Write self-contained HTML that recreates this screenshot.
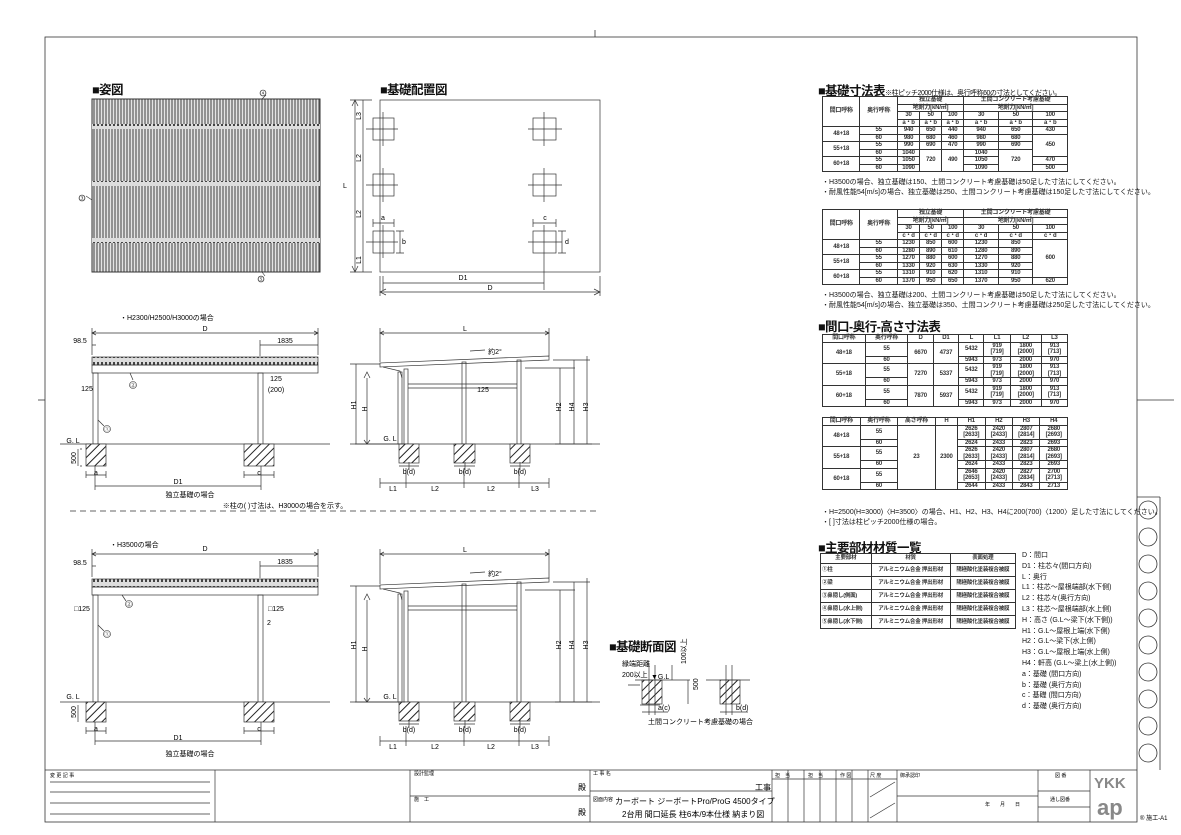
<!DOCTYPE html>
<html><head><meta charset="utf-8">
<style>
body{margin:0;background:#fff;width:1181px;height:835px;overflow:hidden;position:relative;font-family:"Liberation Sans","Noto Sans CJK JP",sans-serif;color:#111}
svg{position:absolute;left:0;top:0}
table{position:absolute;border-collapse:collapse;font-size:6px;line-height:6.5px;font-family:"Liberation Sans","Noto Sans CJK JP",sans-serif;font-weight:bold;color:#333;letter-spacing:-0.2px}
td{border:0.8px solid #333;text-align:center;padding:0 1px;height:6px;white-space:nowrap}
.t{position:absolute;font-size:7px;white-space:nowrap}
.h{position:absolute;font-size:12.5px;font-weight:bold;white-space:nowrap;letter-spacing:-0.5px}
</style></head><body>
<svg width="1181" height="835" viewBox="0 0 1181 835" font-family="Liberation Sans, Noto Sans CJK JP, sans-serif">
<defs>
<pattern id="st" width="3" height="10" patternUnits="userSpaceOnUse"><rect width="3" height="10" fill="#e4e4e4"/><line x1="1" y1="0" x2="1" y2="10" stroke="#666" stroke-width="1.3"/></pattern>
<pattern id="hat" width="6" height="6" patternUnits="userSpaceOnUse" patternTransform="rotate(45)"><rect width="6" height="6" fill="#fff"/><line x1="0" y1="0" x2="0" y2="6" stroke="#222" stroke-width="2"/></pattern>
<pattern id="dots" width="4" height="8" patternUnits="userSpaceOnUse"><rect width="4" height="8" fill="#ddd"/><rect x="1" y="2" width="2" height="4" fill="#444"/></pattern>
</defs>
<g stroke="#333" stroke-width="0.8" fill="none">
<rect x="45" y="37" width="1092" height="785"/>
<line x1="595" y1="30" x2="595" y2="37"/><line x1="38" y1="400" x2="45" y2="400"/><line x1="1137" y1="400" x2="1174" y2="400"/>
<line x1="1137" y1="497" x2="1160" y2="497"/><line x1="1160" y1="497" x2="1160" y2="770"/>
<line x1="70" y1="511" x2="600" y2="511" stroke-dasharray="6,4"/>
</g>
<g fill="none" stroke="#333" stroke-width="0.8">
<circle cx="1148" cy="510" r="9"/><circle cx="1148" cy="537" r="9"/><circle cx="1148" cy="564" r="9"/><circle cx="1148" cy="591" r="9"/><circle cx="1148" cy="618" r="9"/><circle cx="1148" cy="645" r="9"/><circle cx="1148" cy="672" r="9"/><circle cx="1148" cy="699" r="9"/><circle cx="1148" cy="726" r="9"/><circle cx="1148" cy="753" r="9"/>
</g>

<rect x="92" y="99" width="228" height="173" fill="url(#st)" stroke="#333"/>
<rect x="92" y="124" width="228" height="5" fill="url(#dots)"/>
<rect x="92" y="181" width="228" height="5" fill="url(#dots)"/>
<rect x="92" y="238" width="228" height="5" fill="url(#dots)"/>
<g stroke="#333" stroke-width="0.6" fill="none"><line x1="92" y1="200" x2="86" y2="196"/><circle cx="82" cy="198" r="3"/><line x1="262" y1="99" x2="266" y2="95"/><circle cx="263" cy="93" r="3"/><line x1="262" y1="272" x2="265" y2="276"/><circle cx="261" cy="279" r="3"/></g>
<g font-size="5" text-anchor="middle"><text x="82" y="200">③</text><text x="263" y="95">④</text><text x="261" y="281">⑤</text></g>

<g stroke="#333" stroke-width="0.7" fill="none">
<rect x="380" y="100" width="220" height="172"/>
<rect x="373" y="118" width="21" height="22"/><rect x="373" y="174" width="21" height="22"/><rect x="373" y="231" width="21" height="22"/>
<rect x="533" y="118" width="23" height="22"/><rect x="533" y="174" width="23" height="22"/><rect x="533" y="231" width="23" height="22"/>
<path d="M366 129H398M383 112V146M366 185H398M383 168V202M366 242H398M383 225V258M528 129H562M544 112V146M528 185H562M544 168V202M528 242H562M544 225V258"/>
<line x1="355" y1="100" x2="355" y2="272"/><line x1="350" y1="100" x2="372" y2="100"/><line x1="350" y1="272" x2="372" y2="272"/>
<line x1="363" y1="100" x2="363" y2="272"/>
<line x1="383" y1="283" x2="544" y2="283"/><line x1="383" y1="276" x2="383" y2="290"/><line x1="544" y1="258" x2="544" y2="290"/>
<line x1="380" y1="292" x2="600" y2="292"/><line x1="380" y1="276" x2="380" y2="296"/><line x1="600" y1="276" x2="600" y2="296"/>
<path d="M373 223H394M373 219V227M394 219V227M533 223H556M533 219V227M556 219V227M400 231V253M396 231H404M396 253H404M562 231V253M558 231H566M558 253H566"/>
<path d="M352 106L355 100L358 106M352 266L355 272L358 266M386 289L380 292L386 295M594 289L600 292L594 295"/>
</g>
<g font-size="7" text-anchor="middle">
<text x="345" y="188">L</text><text x="359" y="118" transform="rotate(-90 359 116)">L3</text><text x="359" y="160" transform="rotate(-90 359 158)">L2</text><text x="359" y="216" transform="rotate(-90 359 214)">L2</text><text x="359" y="262" transform="rotate(-90 359 260)">L1</text>
<text x="383" y="220">a</text><text x="545" y="220">c</text><text x="404" y="244">b</text><text x="567" y="244">d</text>
<text x="463" y="280">D1</text><text x="490" y="290">D</text>
</g>

<g stroke="#333" stroke-width="0.7" fill="none">
<rect x="92" y="357" width="226" height="8" fill="url(#dots)"/>
<rect x="92" y="365" width="226" height="8"/>
<rect x="93" y="373" width="5" height="71"/><rect x="258" y="373" width="5" height="71"/>
<line x1="60" y1="444" x2="330" y2="444"/>
<rect x="86" y="444" width="20" height="22" fill="url(#hat)"/><rect x="244" y="444" width="30" height="22" fill="url(#hat)"/>
<path d="M92 333H318M92 328V355M318 328V355M92 345H96M92 340V355M260 345H318M260 340V356M96 335l-4-2 4-2M314 335l4-2-4-2"/>
<path d="M86 471V478M106 471V478M86 475H106M244 471V478M274 471V478M244 475H274M95 466V490M261 466V490M95 486H261"/>
<path d="M80 449H82M80 466H82M78 449V466"/>
<line x1="130" y1="373" x2="133" y2="380"/><line x1="98" y1="420" x2="104" y2="426"/>
</g>
<g font-size="7" text-anchor="middle">
<text x="120" y="320" text-anchor="start">・H2300/H2500/H3000の場合</text>
<text x="205" y="331">D</text><text x="285" y="343">1835</text><text x="80" y="343">98.5</text>
<circle cx="133" cy="385" r="3.5" fill="none" stroke="#333" stroke-width="0.6"/><text x="133" y="387" font-size="5">②</text>
<circle cx="107" cy="429" r="3.5" fill="none" stroke="#333" stroke-width="0.6"/><text x="107" y="431" font-size="5">①</text>
<text x="87" y="391">125</text><text x="276" y="381">125</text><text x="276" y="392">(200)</text>
<text x="73" y="443">G. L</text><text x="72" y="462" transform="rotate(-90 72 458)">500</text>
<text x="96" y="475">a</text><text x="259" y="475">c</text><text x="178" y="484">D1</text>
<text x="190" y="497">独立基礎の場合</text><text x="285" y="508">※柱の( )寸法は、H3000の場合を示す。</text>
</g>

<g stroke="#333" stroke-width="0.7" fill="none">
<path d="M380 363L549 356L549 360L380 367Z"/>
<path d="M383 367L400 371L402 378"/>
<rect x="398" y="372" width="4" height="72"/><rect x="404" y="369" width="4" height="75"/><rect x="462" y="362" width="4" height="82"/><rect x="517" y="360" width="4" height="84"/>
<path d="M408 384H517M408 388H517"/>
<line x1="355" y1="444" x2="600" y2="444"/>
<rect x="399" y="444" width="20" height="19" fill="url(#hat)"/><rect x="454" y="444" width="21" height="19" fill="url(#hat)"/><rect x="510" y="444" width="20" height="19" fill="url(#hat)"/>
<path d="M380 333H549M380 328V362M549 328V356M384 335l-4-2 4-2M545 335l4-2-4-2"/>
<path d="M350 364H380M356 364V444M350 444H405M367 378V444M364 378L367 372L370 378M364 440L367 444L370 440"/>
<path d="M525 368H575M560 368V444M553 360H590M574 360V444M587 356V444M555 444H592"/>
<path d="M399 466H419M409 462V470M454 466H475M465 462V470M510 466H530M520 462V470M380 483H549M380 478V488M406 468V488M464 468V488M519 468V488M549 478V488"/>
<line x1="470" y1="351" x2="485" y2="350"/>
</g>
<g font-size="7" text-anchor="middle">
<text x="465" y="331">L</text><text x="495" y="354">約2°</text><text x="483" y="392">125</text>
<text x="353" y="408" transform="rotate(-90 353 405)">H1</text><text x="364" y="412" transform="rotate(-90 364 409)">H</text>
<text x="558" y="410" transform="rotate(-90 558 407)">H2</text><text x="571" y="410" transform="rotate(-90 571 407)">H4</text><text x="585" y="410" transform="rotate(-90 585 407)">H3</text>
<text x="390" y="441">G. L</text>
<text x="409" y="474">b(d)</text><text x="465" y="474">b(d)</text><text x="520" y="474">b(d)</text>
<text x="393" y="491">L1</text><text x="435" y="491">L2</text><text x="491" y="491">L2</text><text x="535" y="491">L3</text>
</g>

<g stroke="#333" stroke-width="0.7" fill="none">
<rect x="92" y="579" width="226" height="8" fill="url(#dots)"/>
<rect x="92" y="587" width="226" height="8"/>
<rect x="93" y="595" width="5" height="107"/><rect x="258" y="595" width="5" height="107"/>
<line x1="60" y1="702" x2="330" y2="702"/>
<rect x="86" y="702" width="20" height="20" fill="url(#hat)"/><rect x="244" y="702" width="30" height="20" fill="url(#hat)"/>
<path d="M92 554H318M92 549V577M318 549V577M92 566H96M260 566H318M260 561V578M96 556l-4-2 4-2M314 556l4-2-4-2"/>
<path d="M86 727V734M106 727V734M86 731H106M244 727V734M274 727V734M244 731H274M95 722V745M261 722V745M95 741H261"/>
<path d="M78 705V722"/>
<line x1="122" y1="595" x2="126" y2="601"/><line x1="98" y1="625" x2="104" y2="631"/>
</g>
<g font-size="7" text-anchor="middle">
<text x="110" y="547" text-anchor="start">・H3500の場合</text>
<text x="205" y="551">D</text><text x="285" y="564">1835</text><text x="80" y="565">98.5</text>
<circle cx="129" cy="604" r="3.5" fill="none" stroke="#333" stroke-width="0.6"/><text x="129" y="606" font-size="5">②</text>
<circle cx="107" cy="634" r="3.5" fill="none" stroke="#333" stroke-width="0.6"/><text x="107" y="636" font-size="5">①</text>
<text x="82" y="611">□125</text><text x="276" y="611">□125</text><text x="269" y="625">2</text>
<text x="73" y="699">G. L</text><text x="72" y="716" transform="rotate(-90 72 712)">500</text>
<text x="96" y="731">a</text><text x="259" y="731">c</text><text x="178" y="740">D1</text>
<text x="190" y="756">独立基礎の場合</text>
</g>

<g stroke="#333" stroke-width="0.7" fill="none">
<path d="M380 585L549 578L549 582L380 589Z"/>
<path d="M383 589L400 593L402 600"/>
<rect x="398" y="594" width="4" height="108"/><rect x="404" y="591" width="4" height="111"/><rect x="462" y="584" width="4" height="118"/><rect x="517" y="582" width="4" height="120"/>
<path d="M408 606H517M408 610H517"/>
<line x1="355" y1="702" x2="600" y2="702"/>
<rect x="399" y="702" width="20" height="19" fill="url(#hat)"/><rect x="454" y="702" width="21" height="19" fill="url(#hat)"/><rect x="510" y="702" width="20" height="19" fill="url(#hat)"/>
<path d="M380 554H549M380 549V584M549 549V578M384 556l-4-2 4-2M545 556l4-2-4-2"/>
<path d="M350 586H380M356 586V702M350 702H405M367 600V702M364 600L367 594L370 600M364 698L367 702L370 698"/>
<path d="M525 590H575M560 590V702M553 582H590M574 582V702M587 578V702M555 702H592"/>
<path d="M399 724H419M409 720V728M454 724H475M465 720V728M510 724H530M520 720V728M380 741H549M380 736V746M406 726V746M464 726V746M519 726V746M549 736V746"/>
<line x1="470" y1="573" x2="485" y2="572"/>
</g>
<g font-size="7" text-anchor="middle">
<text x="465" y="552">L</text><text x="495" y="576">約2°</text>
<text x="353" y="648" transform="rotate(-90 353 645)">H1</text><text x="364" y="652" transform="rotate(-90 364 649)">H</text>
<text x="558" y="648" transform="rotate(-90 558 645)">H2</text><text x="571" y="648" transform="rotate(-90 571 645)">H4</text><text x="585" y="648" transform="rotate(-90 585 645)">H3</text>
<text x="390" y="699">G. L</text>
<text x="409" y="732">b(d)</text><text x="465" y="732">b(d)</text><text x="520" y="732">b(d)</text>
<text x="393" y="749">L1</text><text x="435" y="749">L2</text><text x="491" y="749">L2</text><text x="535" y="749">L3</text>
</g>

<g stroke="#333" stroke-width="0.7" fill="none">
<rect x="642" y="680" width="20" height="24" fill="url(#hat)"/><rect x="720" y="680" width="20" height="24" fill="url(#hat)"/>
<path d="M635 680H690M706 680H750M649 665V715M655 665V715M726 665V715M732 665V715M672 665V680M688 680V704M640 705H660M642 712H668M720 712H748M628 685H640"/>
</g>
<g font-size="7">
<text x="622" y="666">縁端距離</text><text x="622" y="677">200以上</text><text x="651" y="679">▼G.L</text>
<text x="678" y="672" transform="rotate(-90 678 664)">100以上</text><text x="694" y="694" transform="rotate(-90 694 690)">500</text>
<text x="658" y="710">a(c)</text><text x="736" y="710">b(d)</text>
<text x="648" y="724">土間コンクリート考慮基礎の場合</text>
</g>

<g stroke="#333" stroke-width="0.7" fill="none">
<line x1="45" y1="770" x2="1137" y2="770"/>
<line x1="215" y1="770" x2="215" y2="822"/><line x1="410" y1="770" x2="410" y2="822"/><line x1="590" y1="770" x2="590" y2="822"/>
<line x1="410" y1="796" x2="590" y2="796"/><line x1="590" y1="791" x2="772" y2="791"/>
<line x1="772" y1="770" x2="772" y2="822"/><line x1="788" y1="770" x2="788" y2="822"/><line x1="804" y1="770" x2="804" y2="822"/><line x1="820" y1="770" x2="820" y2="822"/><line x1="836" y1="770" x2="836" y2="822"/><line x1="852" y1="770" x2="852" y2="822"/><line x1="868" y1="770" x2="868" y2="822"/>
<line x1="897" y1="770" x2="897" y2="822"/><line x1="1038" y1="770" x2="1038" y2="822"/><line x1="1090" y1="770" x2="1090" y2="822"/>
<line x1="772" y1="779" x2="897" y2="779"/><line x1="897" y1="796" x2="1038" y2="796"/><line x1="1038" y1="791" x2="1090" y2="791"/><line x1="1038" y1="807" x2="1090" y2="807"/>
<line x1="870" y1="797" x2="895" y2="782"/><line x1="870" y1="818" x2="895" y2="803"/>
<line x1="50" y1="782" x2="210" y2="782"/><line x1="50" y1="792" x2="210" y2="792"/><line x1="50" y1="803" x2="210" y2="803"/><line x1="50" y1="814" x2="210" y2="814"/>
</g>
<g font-size="5">
<text x="50" y="777">変 更 記 事</text><text x="414" y="775">設計監理</text><text x="414" y="801">施　工</text><text x="593" y="775">工 事 名</text><text x="593" y="801">図面内容</text>
<text x="775" y="777">担　当</text><text x="808" y="777">担　当</text><text x="840" y="777">作 図</text><text x="870" y="777">尺 度</text><text x="900" y="777">御承認印</text><text x="1055" y="777">図 番</text><text x="1050" y="801">通し図番</text>
<text x="985" y="806">年　　月　　日</text>
</g>
<g font-size="8"><text x="578" y="790">殿</text><text x="578" y="815">殿</text><text x="755" y="790">工事</text>
<text x="615" y="804">カーボート ジーボートPro/ProG 4500タイプ</text><text x="622" y="817">2台用 間口延長 柱6本/9本仕様 納まり図</text></g>
<g fill="#888" font-weight="bold"><text x="1094" y="788" font-size="15">YKK</text><text x="1097" y="815" font-size="22">ap</text></g>
<text x="1140" y="820" font-size="6">® 施工-A1</text>
</svg>

<div class="h" style="left:92px;top:79px">■姿図</div>
<div class="h" style="left:380px;top:79px">■基礎配置図</div>
<div class="h" style="left:609px;top:636px">■基礎断面図</div>
<div class="h" style="left:818px;top:80px">■基礎寸法表<span style="font-size:7px;font-weight:normal">※柱ピッチ2000仕様は、奥行呼称60の寸法としてください。</span></div>
<div class="h" style="left:818px;top:316px">■間口-奥行-高さ寸法表</div>
<div class="h" style="left:818px;top:537px">■主要部材材質一覧</div>

<table style="left:822px;top:96px;width:246px">
<tr><td rowspan="4">間口呼称</td><td rowspan="4">奥行呼称</td><td colspan="3">独立基礎</td><td colspan="3">土間コンクリート考慮基礎</td></tr>
<tr><td colspan="3">地耐力[kN/㎡]</td><td colspan="3">地耐力[kN/㎡]</td></tr>
<tr><td>30</td><td>50</td><td>100</td><td>30</td><td>50</td><td>100</td></tr>
<tr><td>a・b</td><td>a・b</td><td>a・b</td><td>a・b</td><td>a・b</td><td>a・b</td></tr>
<tr><td rowspan="2">48+18</td><td>55</td><td>940</td><td>650</td><td>440</td><td>940</td><td>650</td><td>430</td></tr>
<tr><td>60</td><td>980</td><td>680</td><td>460</td><td>980</td><td>680</td><td rowspan="3">450</td></tr>
<tr><td rowspan="2">55+18</td><td>55</td><td>990</td><td>690</td><td>470</td><td>990</td><td>690</td></tr>
<tr><td>60</td><td>1040</td><td rowspan="3">720</td><td rowspan="3">490</td><td>1040</td><td rowspan="3">720</td></tr>
<tr><td rowspan="2">60+18</td><td>55</td><td>1050</td><td>1050</td><td>470</td></tr>
<tr><td>60</td><td>1090</td><td>1090</td><td>500</td></tr>
</table>
<div class="t" style="left:822px;top:177px">・H3500の場合、独立基礎は150、土間コンクリート考慮基礎は50足した寸法にしてください。</div>
<div class="t" style="left:822px;top:187px">・耐風性能54[m/s]の場合、独立基礎は250、土間コンクリート考慮基礎は150足した寸法にしてください。</div>

<table style="left:822px;top:209px;width:246px">
<tr><td rowspan="4">間口呼称</td><td rowspan="4">奥行呼称</td><td colspan="3">独立基礎</td><td colspan="3">土間コンクリート考慮基礎</td></tr>
<tr><td colspan="3">地耐力[kN/㎡]</td><td colspan="3">地耐力[kN/㎡]</td></tr>
<tr><td>30</td><td>50</td><td>100</td><td>30</td><td>50</td><td>100</td></tr>
<tr><td>c・d</td><td>c・d</td><td>c・d</td><td>c・d</td><td>c・d</td><td>c・d</td></tr>
<tr><td rowspan="2">48+18</td><td>55</td><td>1230</td><td>850</td><td>600</td><td>1230</td><td>850</td><td rowspan="5">600</td></tr>
<tr><td>60</td><td>1280</td><td>890</td><td>610</td><td>1280</td><td>890</td></tr>
<tr><td rowspan="2">55+18</td><td>55</td><td>1270</td><td>880</td><td>600</td><td>1270</td><td>880</td></tr>
<tr><td>60</td><td>1330</td><td>920</td><td>630</td><td>1330</td><td>920</td></tr>
<tr><td rowspan="2">60+18</td><td>55</td><td>1310</td><td>910</td><td>620</td><td>1310</td><td>910</td></tr>
<tr><td>60</td><td>1370</td><td>950</td><td>650</td><td>1370</td><td>950</td><td>620</td></tr>
</table>
<div class="t" style="left:822px;top:290px">・H3500の場合、独立基礎は200、土間コンクリート考慮基礎は50足した寸法にしてください。</div>
<div class="t" style="left:822px;top:300px">・耐風性能54[m/s]の場合、独立基礎は350、土間コンクリート考慮基礎は250足した寸法にしてください。</div>

<table style="left:822px;top:334px;width:246px">
<tr><td>間口呼称</td><td>奥行呼称</td><td>D</td><td>D1</td><td>L</td><td>L1</td><td>L2</td><td>L3</td></tr>
<tr><td rowspan="2">48+18</td><td style="height:13px">55</td><td rowspan="2">6670</td><td rowspan="2">4737</td><td>5432</td><td>919<br>[719]</td><td>1800<br>[2000]</td><td>913<br>[713]</td></tr>
<tr><td>60</td><td>5943</td><td>973</td><td>2000</td><td>970</td></tr>
<tr><td rowspan="2">55+18</td><td style="height:13px">55</td><td rowspan="2">7270</td><td rowspan="2">5337</td><td>5432</td><td>919<br>[719]</td><td>1800<br>[2000]</td><td>913<br>[713]</td></tr>
<tr><td>60</td><td>5943</td><td>973</td><td>2000</td><td>970</td></tr>
<tr><td rowspan="2">60+18</td><td style="height:13px">55</td><td rowspan="2">7870</td><td rowspan="2">5937</td><td>5432</td><td>919<br>[719]</td><td>1800<br>[2000]</td><td>913<br>[713]</td></tr>
<tr><td>60</td><td>5943</td><td>973</td><td>2000</td><td>970</td></tr>
</table>

<table style="left:822px;top:417px;width:246px">
<tr><td>間口呼称</td><td>奥行呼称</td><td>高さ呼称</td><td>H</td><td>H1</td><td>H2</td><td>H3</td><td>H4</td></tr>
<tr><td rowspan="2">48+18</td><td style="height:13px">55</td><td rowspan="6">23</td><td rowspan="6">2300</td><td>2626<br>[2633]</td><td>2420<br>[2433]</td><td>2807<br>[2814]</td><td>2680<br>[2693]</td></tr>
<tr><td>60</td><td>2624</td><td>2433</td><td>2823</td><td>2693</td></tr>
<tr><td rowspan="2">55+18</td><td style="height:13px">55</td><td>2626<br>[2633]</td><td>2420<br>[2433]</td><td>2807<br>[2814]</td><td>2680<br>[2693]</td></tr>
<tr><td>60</td><td>2624</td><td>2433</td><td>2823</td><td>2693</td></tr>
<tr><td rowspan="2">60+18</td><td style="height:13px">55</td><td>2646<br>[2653]</td><td>2420<br>[2433]</td><td>2827<br>[2834]</td><td>2700<br>[2713]</td></tr>
<tr><td>60</td><td>2644</td><td>2433</td><td>2843</td><td>2713</td></tr>
</table>
<div class="t" style="left:822px;top:507px">・H=2500(H=3000)〈H=3500〉の場合、H1、H2、H3、H4に200(700)〈1200〉足した寸法にしてください。</div>
<div class="t" style="left:822px;top:517px">・[ ]寸法は柱ピッチ2000仕様の場合。</div>

<table style="left:820px;top:553px;width:196px;font-size:5.5px">
<tr><td style="height:9px">主要部材</td><td>材質</td><td>表面処理</td></tr>
<tr><td style="height:12px;text-align:left">①柱</td><td>アルミニウム合金 押出形材</td><td>陽極酸化塗装複合被膜</td></tr>
<tr><td style="height:12px;text-align:left">②梁</td><td>アルミニウム合金 押出形材</td><td>陽極酸化塗装複合被膜</td></tr>
<tr><td style="height:12px;text-align:left">③鼻隠し(側面)</td><td>アルミニウム合金 押出形材</td><td>陽極酸化塗装複合被膜</td></tr>
<tr><td style="height:12px;text-align:left">④鼻隠し(水上側)</td><td>アルミニウム合金 押出形材</td><td>陽極酸化塗装複合被膜</td></tr>
<tr><td style="height:12px;text-align:left">⑤鼻隠し(水下側)</td><td>アルミニウム合金 押出形材</td><td>陽極酸化塗装複合被膜</td></tr>
</table>
<div class="t" style="left:1022px;top:551px;line-height:10.8px">D：間口<br>D1：柱芯々(間口方向)<br>L：奥行<br>L1：柱芯～屋根端部(水下側)<br>L2：柱芯々(奥行方向)<br>L3：柱芯～屋根端部(水上側)<br>H：高さ (G.L～梁下(水下側))<br>H1：G.L～屋根上端(水下側)<br>H2：G.L～梁下(水上側)<br>H3：G.L～屋根上端(水上側)<br>H4：軒高 (G.L～梁上(水上側))<br>a：基礎 (間口方向)<br>b：基礎 (奥行方向)<br>c：基礎 (間口方向)<br>d：基礎 (奥行方向)</div>
</body></html>
